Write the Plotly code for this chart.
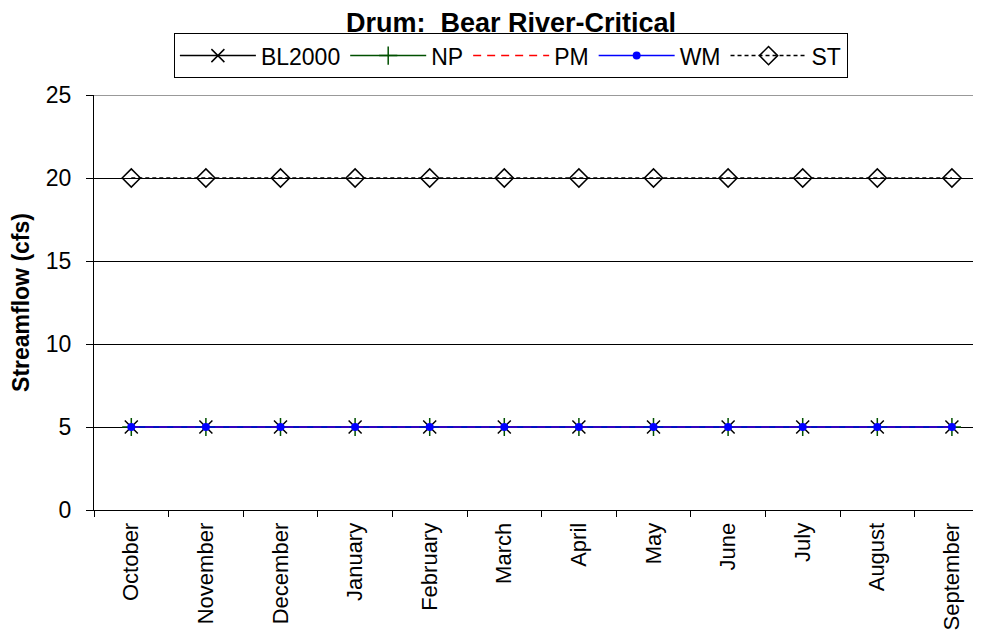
import plotly.graph_objects as go

months = ["October", "November", "December", "January", "February", "March",
          "April", "May", "June", "July", "August", "September"]
bl2000 = [5, 5, 5, 5, 5, 5, 5, 5, 5, 5, 5, 5]
np_vals = [5, 5, 5, 5, 5, 5, 5, 5, 5, 5, 5, 5]
pm = [5, 5, 5, 5, 5, 5, 5, 5, 5, 5, 5, 5]
wm = [5, 5, 5, 5, 5, 5, 5, 5, 5, 5, 5, 5]
st = [20, 20, 20, 20, 20, 20, 20, 20, 20, 20, 20, 20]
y_ticks = [0, 5, 10, 15, 20, 25]

FONT = "Liberation Sans, Arial, sans-serif"

fig = go.Figure()
fig.add_trace(go.Scatter(x=months, y=bl2000, name="BL2000", mode="lines+markers",
                         line=dict(color="black", width=1.5),
                         marker=dict(symbol="x-thin", size=13, line=dict(color="black", width=1.5))))
fig.add_trace(go.Scatter(x=months, y=np_vals, name="NP", mode="lines+markers",
                         line=dict(color="#005000", width=1.5),
                         marker=dict(symbol="cross-thin", size=13, line=dict(color="#005000", width=1.5))))
fig.add_trace(go.Scatter(x=months, y=pm, name="PM", mode="lines",
                         line=dict(color="#ff0000", width=1.5, dash="8px,6px")))
fig.add_trace(go.Scatter(x=months, y=wm, name="WM", mode="lines+markers",
                         line=dict(color="#0000ff", width=1.5),
                         marker=dict(symbol="circle", size=8, color="#0000ff")))
fig.add_trace(go.Scatter(x=months, y=st, name="ST", mode="lines+markers",
                         line=dict(color="black", width=1.5, dash="4px,3px"),
                         marker=dict(symbol="diamond-open", size=14, color="black",
                                     line=dict(color="black", width=1.5))))

fig.add_shape(type="line", xref="paper", yref="y", x0=0, x1=1, y0=25, y1=25,
              line=dict(color="#999999", width=2))

fig.update_layout(
    width=973, height=627,
    margin=dict(l=86, r=0, t=87, b=125, autoexpand=False),
    paper_bgcolor="white", plot_bgcolor="white",
    font=dict(family=FONT, color="black", size=23),
    title=dict(text="<b>Drum:  Bear River-Critical</b>", x=0.517, xanchor="center",
               y=0.977, yanchor="middle", font=dict(size=27, family=FONT)),
    showlegend=True,
    legend=dict(orientation="h", x=0.470, xanchor="center", y=1.149, yanchor="top",
                bordercolor="black", borderwidth=1, font=dict(size=23, family=FONT),
                bgcolor="white", itemwidth=76, tracegroupgap=0),
    xaxis=dict(type="category", categoryorder="array", categoryarray=months,
               range=[-0.5, 11.39], tickson="boundaries", ticks="outside", ticklen=6,
               tickcolor="black", tickangle=-90, showline=True, linecolor="black",
               linewidth=1, showgrid=False, zeroline=False, ticklabelstandoff=3,
               automargin=False, tickfont=dict(size=22, family=FONT)),
    yaxis=dict(range=[0, 25], tickvals=y_ticks, ticks="outside", ticklen=7,
               tickcolor="black", showline=True, linecolor="black", linewidth=1,
               showgrid=True, gridcolor="black", gridwidth=1, zeroline=False,
               ticklabelstandoff=10, automargin=False,
               title=dict(text="<b>Streamflow (cfs)</b>", font=dict(size=23, family=FONT),
                          standoff=12),
               tickfont=dict(size=23, family=FONT)),
)

fig.write_html("out.html")
